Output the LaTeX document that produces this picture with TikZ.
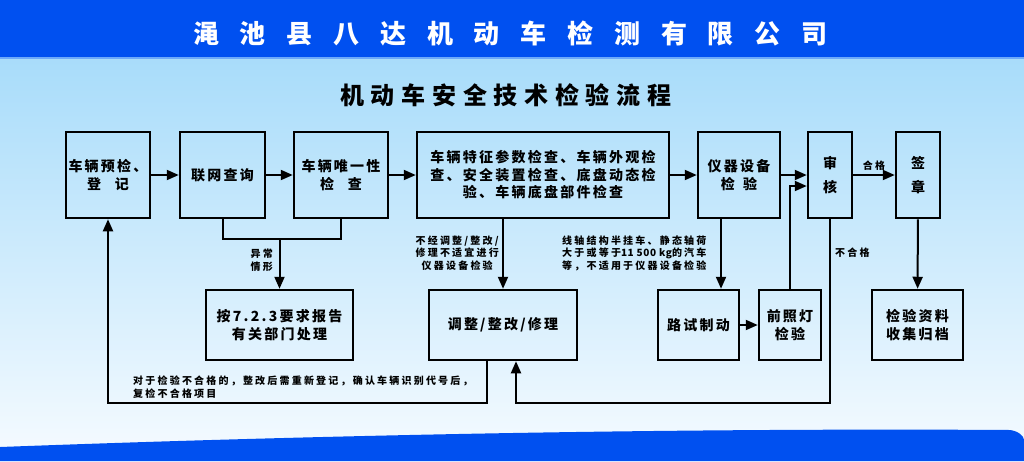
\documentclass[tikz,border=0pt]{standalone}
\usepackage{fontspec}
\setmainfont{Noto Sans CJK SC}
\newfontfamily\titlehei[LetterSpace=80]{Noto Sans CJK SC}
\newfontfamily\subhei[LetterSpace=28]{Noto Sans CJK SC}
\newfontfamily\boxhei[LetterSpace=16]{Noto Sans CJK SC}
\newfontfamily\notehei[LetterSpace=22]{Noto Sans CJK SC}
\usetikzlibrary{arrows.meta,positioning}
\definecolor{barblue}{RGB}{0,80,240}
\definecolor{barline}{RGB}{110,170,250}
\definecolor{bgtop}{RGB}{168,220,250}
\definecolor{bgmid}{RGB}{205,235,252}
\definecolor{bgbot}{RGB}{246,251,255}
\begin{document}
\begin{tikzpicture}[x=1pt,y=-1pt,
  box/.style={draw,line width=2.5pt,align=center,inner sep=0pt,
    font=\boxhei\bfseries\fontsize{14}{17.5}\selectfont},
  toprow/.style={box,minimum height=86pt},
  lowrow/.style={box,minimum height=70pt},
  note/.style={inner sep=0pt,font=\notehei\bfseries\fontsize{10}{12.5}\selectfont},
  arr/.style={-{Triangle[length=12pt,width=10pt]},line width=2pt},
  wire/.style={line width=2pt}]
  \useasboundingbox (0,0) rectangle (1024,461);
  % background
  \shade[top color=bgtop,middle color=bgmid,bottom color=bgbot] (0,57) rectangle (1024,461);
  \fill[barblue] (0,0) rectangle (1024,57);
  \fill[barline] (0,57) rectangle (1024,59);
  \fill[barblue] (0,461) -- (0,447) .. controls (350,434) and (700,428) .. (1010,430)
    .. controls (1018,431) and (1024,436) .. (1024,440) -- (1024,461) -- cycle;
  % titles
  \node[anchor=west,text=white,inner sep=0pt,font=\titlehei\bfseries\fontsize{26}{26}\selectfont]
    (company) at (193,34) {渑池县八达机动车检测有限公司};
  \node[anchor=west,inner sep=0pt,font=\subhei\bfseries\fontsize{24}{24}\selectfont]
    (flowtitle) at (340,95) {机动车安全技术检验流程};
  % top row
  \node[toprow,minimum width=84pt] (yujian) at (108,175) {车辆预检、\\登\quad 记};
  \node[toprow,minimum width=85pt] (lianwang) at (222.5,175) {联网查询};
  \node[toprow,minimum width=94pt] (weiyi) at (341,175) {车辆唯一性\\检\quad 查};
  \node[toprow,minimum width=252pt] (tezheng) at (543,175)
    {车辆特征参数检查、车辆外观检\\查、安全装置检查、底盘动态检\\验、车辆底盘部件检查};
  \node[toprow,minimum width=82pt] (yiqi) at (739,175) {仪器设备\\检\hspace{0.6em}验};
  \node[toprow,minimum width=44pt] (shenhe) at (830,175) {审\\[6pt]核};
  \node[toprow,minimum width=44pt] (qianzhang) at (918,175) {签\\[6pt]章};
  % bottom row
  \node[lowrow,minimum width=147pt] (baogao) at (279.5,325) {按7.2.3要求报告\\有关部门处理};
  \node[lowrow,minimum width=148pt] (tiaozheng) at (503,325) {调整/整改/修理};
  \node[lowrow,minimum width=81pt] (lushi) at (698.5,325) {路试制动};
  \node[lowrow,minimum width=62pt] (qianzhao) at (790,325) {前照灯\\检验};
  \node[lowrow,minimum width=91pt] (guidang) at (917.5,325) {检验资料\\收集归档};
  % main flow
  \draw[arr] (yujian) -- (lianwang);
  \draw[arr] (lianwang) -- (weiyi);
  \draw[arr] (weiyi) -- (tezheng);
  \draw[arr] (tezheng) -- (yiqi);
  \draw[arr] (yiqi) -- (shenhe);
  \draw[arr] (shenhe) -- node[note,above=4pt] (hege) {合格} (qianzhang);
  \draw[arr] (qianzhang) -- (guidang);
  % branches
  \coordinate (yc) at (279.5,239);
  \draw[wire] (lianwang.south) |- (yc) -| (weiyi.south);
  \draw[arr] (yc) -- (baogao.north);
  \node[note,anchor=east,align=center] (yichang) at (273,260) {异常\\情形};
  \draw[arr] (tiaozheng.north |- tezheng.south) -- (tiaozheng.north);
  \node[note,anchor=east,align=center] (bujing) at (499,253)
    {不经调整/整改/\\修理不适宜进行\\仪器设备检验};
  \draw[arr] (yiqi.south -| 721,0) -- (lushi.north -| 721,0);
  \node[note,anchor=west,align=left] (xianzhou) at (562,253)
    {线轴结构半挂车、静态轴荷\\大于或等于{\addfontfeature{LetterSpace=6}11 500 kg}的汽车\\等，不适用于仪器设备检验};
  \draw[arr] (lushi) -- (qianzhao);
  \draw[arr] (qianzhao.north) |- (shenhe.west |- 0,186);
  % return loops
  \draw[arr] (shenhe.south) -- (shenhe.south |- 0,403) -| (tiaozheng.south -| 516,0);
  \node[note,anchor=west] (buhege) at (835,253) {不合格};
  \draw[arr] (tiaozheng.south -| 487,0) -- (487,403) -| (yujian.south);
  \node[note,anchor=west,align=left] (fujian) at (133,387)
    {对于检验不合格的，整改后需重新登记，确认车辆识别代号后，\\复检不合格项目};
\end{tikzpicture}
\end{document}
